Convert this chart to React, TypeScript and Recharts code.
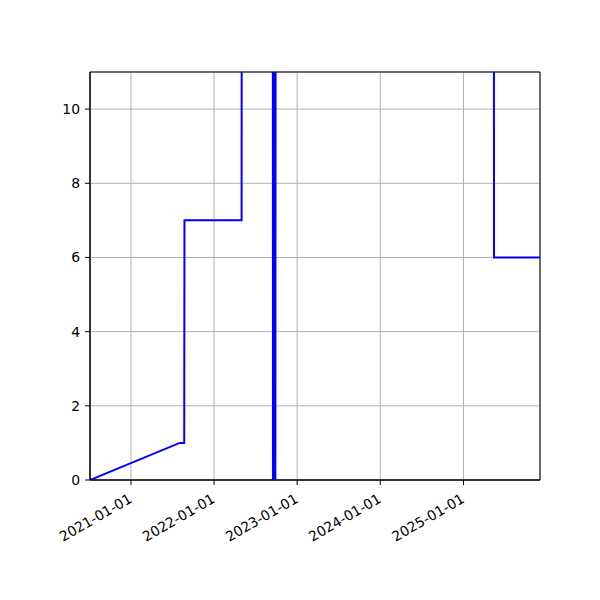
import React from 'react'
import { LineChart, Line, XAxis, YAxis, CartesianGrid, ReferenceArea } from 'recharts'

// dates and values (values above 11 are off the chart)
const dates = [
  '2020-07-05', '2021-08-03', '2021-08-23', '2021-08-24', '2022-05-02', '2022-05-03',
  '2022-09-16', '2022-09-17', '2022-09-20', '2022-09-22', '2022-09-25', '2022-09-27',
  '2022-09-29', '2025-05-14', '2025-05-15', '2025-12-03',
]
const values = [0, 1, 1, 7, 7, 20, 20, -5, 20, -5, 20, -5, 20, 20, 6, 6]

const xTicks = ['2021-01-01', '2022-01-01', '2023-01-01', '2024-01-01', '2025-01-01']
const yTicks = [0, 2, 4, 6, 8, 10]

const toTime = (s: string) => Date.parse(s + 'T00:00:00Z')
const fmt = (t: number) => new Date(t).toISOString().slice(0, 10)

const data = dates.map((d, i) => ({ t: toTime(d), v: values[i] }))
const xMin = data[0].t
const xMax = data[data.length - 1].t

const font = 'DejaVu Sans, sans-serif'

const XTick = ({ x, y, payload }: any) => (
  <g transform={`translate(${x - 3},${y + 4})`}>
    <text x={0} y={0} dy="0.71em" textAnchor="end" transform="rotate(-30)"
      fontSize={13.9} fontFamily={font} fill="#000">
      {fmt(payload.value)}
    </text>
  </g>
)

export default function App() {
  return (
    <div style={{ position: 'absolute', left: 0, top: 0, width: 600, height: 600, background: '#fff' }}>
      <LineChart width={600} height={600} data={data}
        margin={{ top: 72, right: 60, bottom: 0, left: 0 }}>
        <CartesianGrid stroke="#b0b0b0" strokeWidth={1} />
        <XAxis dataKey="t" type="number" domain={[xMin, xMax]} allowDataOverflow
          ticks={xTicks.map(toTime)} tick={<XTick />} height={120}
          tickSize={5} tickMargin={4} stroke="#000" interval={0} />
        <YAxis type="number" domain={[0, 11]} allowDataOverflow ticks={yTicks}
          width={90} tickSize={5} tickMargin={5} stroke="#000"
          tick={{ fill: '#000', fontSize: 13.9, fontFamily: font }} />
        <ReferenceArea x1={xMin} x2={xMax} y1={0} y2={11} fill="none"
          stroke="#000" strokeWidth={1} />
        <Line dataKey="v" type="linear" stroke="#0000ff" strokeWidth={2}
          dot={false} isAnimationActive={false} />
      </LineChart>
    </div>
  )
}
